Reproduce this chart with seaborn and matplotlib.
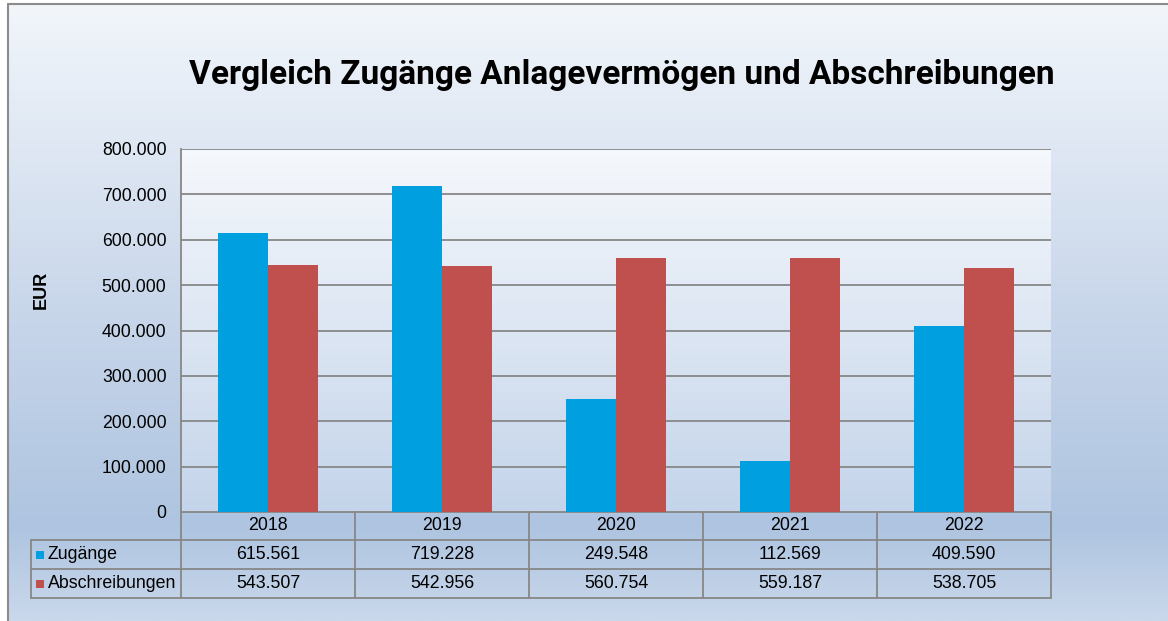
import numpy as np
import pandas as pd
import matplotlib
matplotlib.use("Agg")
import matplotlib.pyplot as plt
import seaborn as sns
from matplotlib import transforms
from matplotlib.colors import LinearSegmentedColormap
from matplotlib.ticker import FuncFormatter
from matplotlib.lines import Line2D

# ---- data ----
years = ["2018", "2019", "2020", "2021", "2022"]
zugaenge = [615561, 719228, 249548, 112569, 409590]
abschreibungen = [543507, 542956, 560754, 559187, 538705]
series_names = ["Zugänge", "Abschreibungen"]
y_ticks = [0, 100000, 200000, 300000, 400000, 500000, 600000, 700000, 800000]
title = "Vergleich Zugänge Anlagevermögen und Abschreibungen"
y_label = "EUR"

colors = {"Zugänge": "#00a0e0", "Abschreibungen": "#c0504d"}

sns.set_theme(style="white")
plt.rcParams["font.family"] = ["Liberation Sans", "DejaVu Sans"]

W, H = 1168, 621
fig = plt.figure(figsize=(W / 100, H / 100), dpi=100)
fig.patch.set_facecolor("white")

def fx(px):
    return px / W

def fy(py):
    return 1 - py / H

# figure background gradient
bg = fig.add_axes([fx(7), 0, 1 - fx(7), fy(3)], zorder=-10)
bg_cmap = LinearSegmentedColormap.from_list(
    "bg",
    [(0.0, (242/255, 246/255, 251/255)),
     (0.5, (200/255, 214/255, 234/255)),
     (0.85, (174/255, 196/255, 224/255)),
     (1.0, (202/255, 216/255, 235/255))])
bg.imshow(np.linspace(0, 1, 256).reshape(-1, 1), aspect="auto", cmap=bg_cmap,
          extent=[0, 1, 0, 1], origin="upper")
bg.set_axis_off()

# border lines
fig.add_artist(Line2D([fx(7.5), fx(7.5)], [0, fy(3.5)], transform=fig.transFigure,
                      color="#8c8c8c", lw=1.5))
fig.add_artist(Line2D([fx(7.5), 1], [fy(3.5), fy(3.5)], transform=fig.transFigure,
                      color="#8c8c8c", lw=1.5))

# main axes
ax = fig.add_axes([fx(181), 1 - 512 / H, 870 / W, 363 / H])
ax.set_facecolor("none")
pa_cmap = LinearSegmentedColormap.from_list(
    "pa", [(245/255, 248/255, 252/255), (196/255, 212/255, 234/255)])
ax.imshow(np.linspace(0, 1, 256).reshape(-1, 1), aspect="auto", cmap=pa_cmap,
          extent=[0, 1, 0, 1], origin="upper", transform=ax.transAxes, zorder=-5)

df = pd.DataFrame({
    "Jahr": years * 2,
    "Wert": zugaenge + abschreibungen,
    "Serie": [series_names[0]] * len(years) + [series_names[1]] * len(years),
})
sns.barplot(data=df, x="Jahr", y="Wert", hue="Serie", palette=colors, width=0.575,
            saturation=1, ax=ax, legend=False, zorder=3)
for p in ax.patches:
    p.set_linewidth(0)

ax.set_xlim(-0.5, len(years) - 0.5)
ax.set_ylim(0, 800000)
ax.set_yticks(y_ticks)
ax.yaxis.set_major_formatter(FuncFormatter(lambda v, _: f"{int(v):,}".replace(",", ".")))
ax.tick_params(axis="y", length=0, pad=10.5, labelsize=12.7, labelcolor="black")
ax.set_xticks([])
ax.set_xlabel("")
ax.set_ylabel("")
for y in y_ticks[1:]:
    ax.axhline(y, color="#878787", lw=1.3, zorder=1)
for s in ["top", "right", "bottom"]:
    ax.spines[s].set_visible(False)
ax.spines["left"].set_color("#878787")
ax.spines["left"].set_linewidth(1.3)

# data table
tr = transforms.blended_transform_factory(ax.transData, ax.transAxes)
gc = "#878787"
row_y = [0.0, -28 / 363, -57 / 363, -86 / 363]
x_left_label = -0.5 + (31 - 181) / 174
x_right = len(years) - 0.5
tfs = 12.8
ax.add_line(Line2D([-0.5, x_right], [row_y[0]] * 2, transform=tr, color=gc, lw=1.3, clip_on=False))
for yy in row_y[1:]:
    ax.add_line(Line2D([x_left_label, x_right], [yy] * 2, transform=tr, color=gc, lw=1.3, clip_on=False))
for i in range(len(years) + 1):
    ax.add_line(Line2D([i - 0.5, i - 0.5], [row_y[0], row_y[3]], transform=tr, color=gc,
                       lw=1.3, clip_on=False))
ax.add_line(Line2D([x_left_label] * 2, [row_y[1], row_y[3]], transform=tr, color=gc,
                   lw=1.3, clip_on=False))

for i, yr in enumerate(years):
    ax.text(i, (row_y[0] + row_y[1]) / 2, yr, transform=tr, ha="center", va="center",
            fontsize=tfs, color="black", clip_on=False)
fmt = lambda v: f"{v:,}".replace(",", ".")
for r, (name, vals) in enumerate([(series_names[0], zugaenge), (series_names[1], abschreibungen)]):
    yc = (row_y[r + 1] + row_y[r + 2]) / 2
    for i, v in enumerate(vals):
        ax.text(i, yc, fmt(v), transform=tr, ha="center", va="center", fontsize=tfs,
                color="black", clip_on=False)
    ax.scatter([x_left_label + 9 / 174], [yc], s=26, marker="s", color=colors[name],
               transform=tr, clip_on=False, linewidths=0)
    ax.text(x_left_label + 17 / 174, yc, name, transform=tr, ha="left", va="center",
            fontsize=tfs, color="black", clip_on=False)

# title and y label
fig.text(fx(622), fy(75), title, ha="center", va="center", fontsize=24, fontweight="bold",
         color="black", family=["Roboto", "DejaVu Sans"])
fig.text(fx(41), fy(290), y_label, ha="center", va="center", rotation=90, fontsize=13,
         fontweight="bold", color="black")

fig.savefig("out.png", dpi=100)
